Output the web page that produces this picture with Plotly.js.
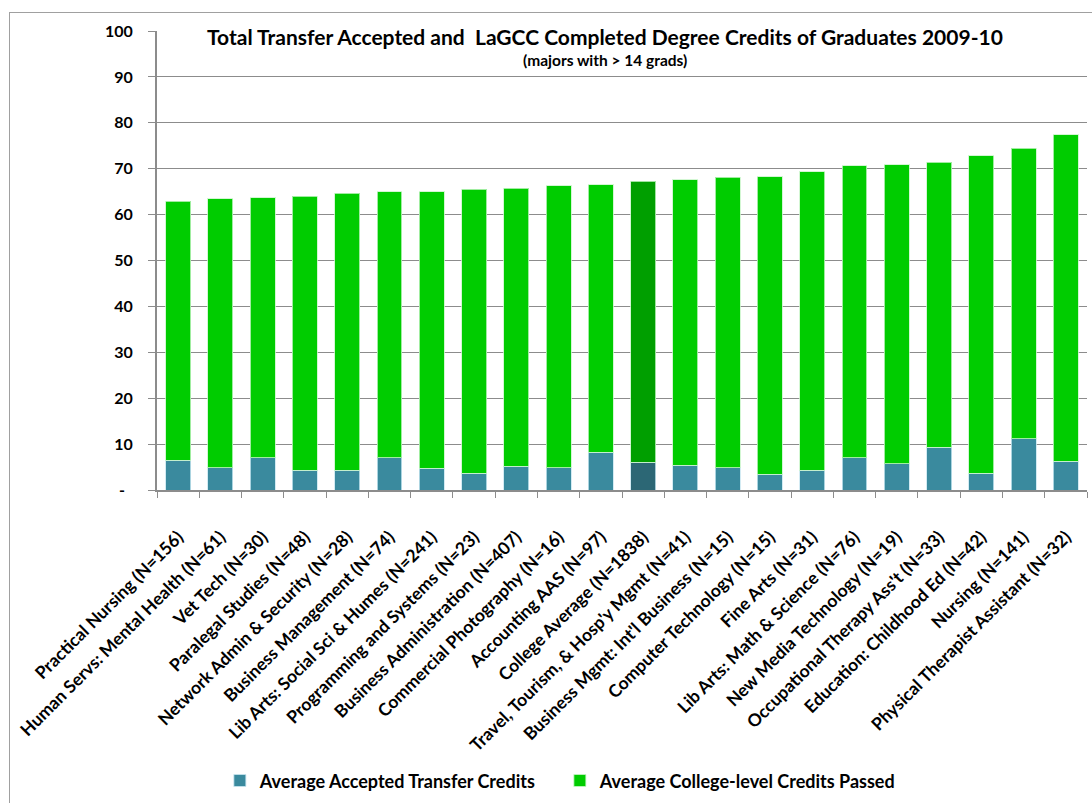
<!DOCTYPE html>
<html>
<head>
<meta charset="utf-8">
<script src="https://cdn.plot.ly/plotly-3.0.1.min.js"></script>
<style>
  html, body { margin: 0; padding: 0; background: #fff; }
  #wrap { position: relative; width: 1092px; height: 803px; overflow: hidden; }
  #chart { position: absolute; left: 0; top: 0; width: 1092px; height: 803px; }
  #frame { position: absolute; left: 9px; top: 12px; width: 1200px; height: 900px; border: 1px solid #a0a0a0; pointer-events: none; }
</style>
</head>
<body>
<div id="wrap">
  <div id="chart"></div>
  <div id="frame"></div>
</div>
<script>
const categories = [
  "Practical Nursing (N=156)",
  "Human Servs: Mental Health (N=61)",
  "Vet Tech (N=30)",
  "Paralegal Studies (N=48)",
  "Network Admin & Security (N=28)",
  "Business Management (N=74)",
  "Lib Arts: Social Sci & Humes (N=241)",
  "Programming and Systems (N=23)",
  "Business Administration (N=407)",
  "Commercial Photography (N=16)",
  "Accounting AAS (N=97)",
  "College Average (N=1838)",
  "Travel, Tourism, & Hosp'y Mgmt (N=41)",
  "Business Mgmt: Int'l Business (N=15)",
  "Computer Technology (N=15)",
  "Fine Arts (N=31)",
  "Lib Arts: Math & Science (N=76)",
  "New Media Technology (N=19)",
  "Occupational Therapy Ass't (N=33)",
  "Education: Childhood Ed (N=42)",
  "Nursing (N=141)",
  "Physical Therapist Assistant (N=32)"
];
const transferCredits = [6.5, 4.9, 7.0, 4.3, 4.3, 7.0, 4.7, 3.7, 5.2, 4.9, 8.2, 6.0, 5.4, 4.9, 3.4, 4.3, 7.0, 5.7, 9.3, 3.7, 11.2, 6.3];
const collegeCredits  = [56.4, 58.6, 56.7, 59.7, 60.4, 58.0, 60.3, 61.8, 60.5, 61.4, 58.3, 61.3, 62.2, 63.2, 64.9, 65.0, 63.6, 65.2, 62.1, 69.1, 63.3, 71.1];
const highlightCategory = "College Average (N=1838)";
const yTickVals = [0, 10, 20, 30, 40, 50, 60, 70, 80, 90, 100];
const yTickText = ["-\u00a0\u00a0", "10", "20", "30", "40", "50", "60", "70", "80", "90", "100"];

const teal = "#3A8A9E", tealDark = "#2C6775";
const green = "#00CC00", greenDark = "#009F00";
const tealColors = categories.map(c => c === highlightCategory ? tealDark : teal);
const greenColors = categories.map(c => c === highlightCategory ? greenDark : green);

const FONT = "Lato, 'Open Sans', 'DejaVu Sans', sans-serif";

const traces = [
  {
    type: "bar", name: "Average Accepted Transfer Credits",
    x: categories, y: transferCredits,
    marker: { color: tealColors, line: { color: "rgba(200,230,240,0.8)", width: 1 } },
    hoverinfo: "x+y"
  },
  {
    type: "bar", name: "Average College-level Credits Passed",
    x: categories, y: collegeCredits,
    marker: { color: greenColors, line: { color: "rgba(200,245,200,0.8)", width: 1 } },
    hoverinfo: "x+y"
  }
];

const layout = {
  width: 1092, height: 803,
  margin: { l: 157, r: 5, t: 31, b: 311.5, pad: 0 },
  paper_bgcolor: "rgba(0,0,0,0)",
  plot_bgcolor: "#fff",
  barmode: "stack",
  bargap: 0.41,
  font: { family: FONT, color: "#000" },
  showlegend: true,
  legend: {
    orientation: "h", x: 0.0676, xanchor: "left", y: -0.63, yanchor: "middle",
    font: { family: FONT, size: 18, weight: "bold", color: "#000" },
    traceorder: "normal", itemwidth: 30,
    entrywidth: 295, entrywidthmode: "pixels"
  },
  xaxis: {
    type: "category",
    tickangle: -45,
    tickfont: { family: FONT, size: 17.5, weight: "bold", color: "#000" },
    showline: true, linecolor: "#8c8c8c", linewidth: 2,
    ticks: "outside", tickson: "boundaries", ticklen: 6, tickcolor: "#8c8c8c", tickwidth: 1,
    ticklabelstandoff: 28,
    showgrid: false, zeroline: false, fixedrange: true
  },
  yaxis: {
    range: [0, 100],
    tickvals: yTickVals, ticktext: yTickText,
    tickfont: { family: FONT, size: 16, weight: "bold", color: "#000" },
    showline: true, linecolor: "#8c8c8c", linewidth: 2,
    ticks: "outside", ticklen: 7, tickcolor: "#8c8c8c", tickwidth: 1,
    ticklabelstandoff: 12,
    showgrid: true, gridcolor: "#8c8c8c", gridwidth: 1,
    zeroline: false, fixedrange: true
  },
  annotations: [
    {
      xref: "paper", yref: "paper", x: 0.4817, y: 0.987, xanchor: "center", yanchor: "middle",
      text: "Total Transfer Accepted and  LaGCC Completed Degree Credits of Graduates 2009-10",
      showarrow: false, bgcolor: "#fff", borderpad: 4,
      font: { family: FONT, size: 21, weight: "bold", color: "#000" }
    },
    {
      xref: "paper", yref: "paper", x: 0.4817, y: 0.937, xanchor: "center", yanchor: "middle",
      text: "(majors with > 14 grads)",
      showarrow: false,
      font: { family: FONT, size: 15.5, weight: "bold", color: "#000" }
    }
  ]
};

Plotly.newPlot("chart", traces, layout, { displayModeBar: false, staticPlot: true });
</script>
</body>
</html>
